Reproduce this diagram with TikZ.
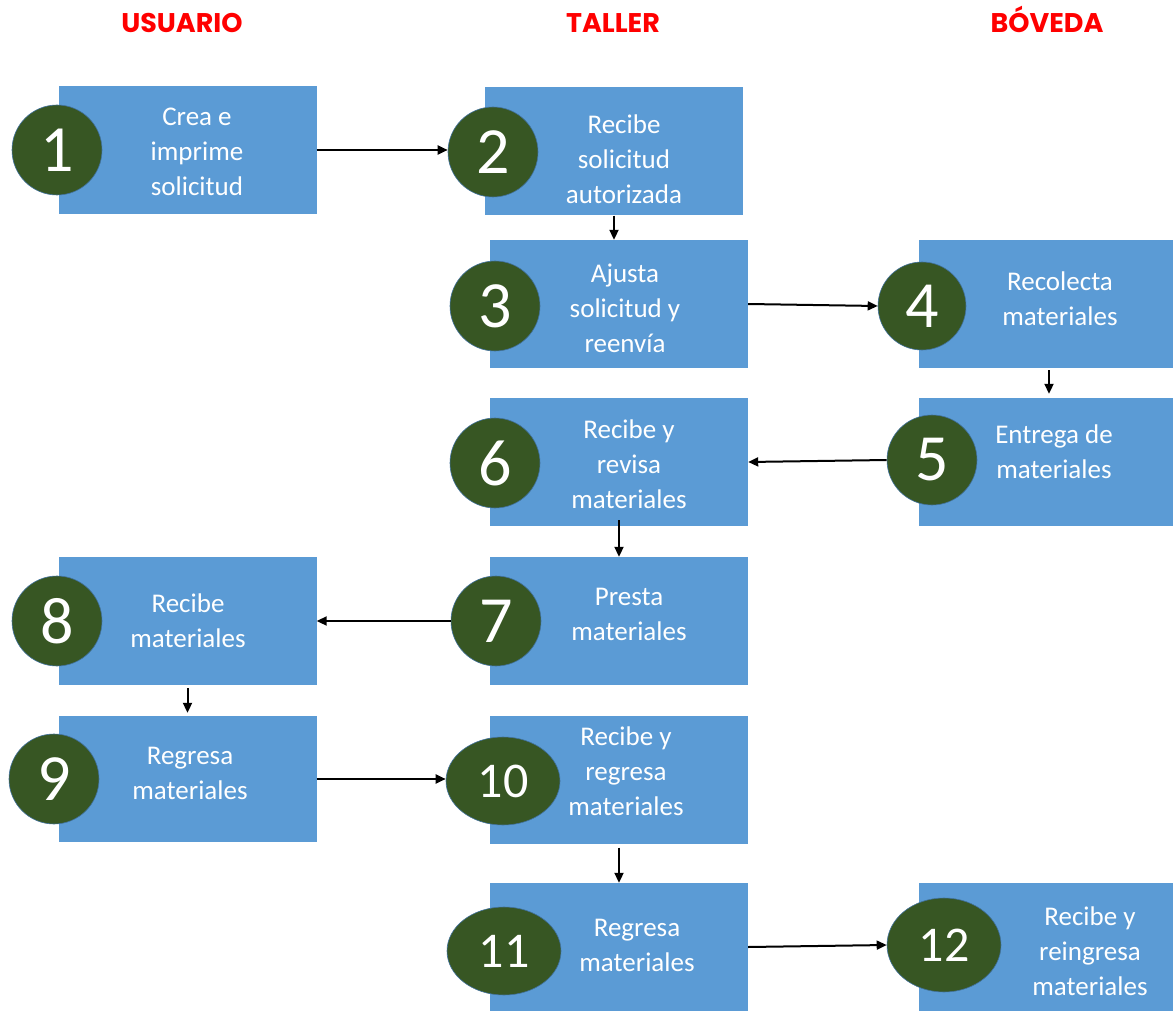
\documentclass[tikz,border=0pt]{standalone}
\usepackage{fontspec}
\setmainfont{Carlito}
\newfontfamily\headfont{Poppins}
\usetikzlibrary{arrows.meta,shapes.geometric}
\definecolor{boxblue}{HTML}{5B9BD5}
\definecolor{stepgreen}{HTML}{375623}
\definecolor{stepedge}{HTML}{41719C}
\definecolor{headred}{HTML}{FF0000}
\tikzset{
  stepbox/.style={fill=boxblue, draw=none, inner sep=0pt, minimum width=258pt, minimum height=128pt},
  numcirc/.style={circle, fill=stepgreen, draw=stepedge, line width=0.6pt, inner sep=0pt, minimum size=90pt, text=white, font=\fontsize{66}{66}\selectfont},
  numell/.style={ellipse, fill=stepgreen, draw=stepedge, line width=0.6pt, inner sep=0pt, minimum width=114pt, minimum height=88pt, text=white, font=\fontsize{50}{50}\selectfont},
  steptext/.style={text=white, align=center, inner sep=0pt, font=\fontsize{27}{35}\selectfont},
  head/.style={text=headred, anchor=base, inner sep=0pt, font=\headfont\bfseries\fontsize{27}{27}\selectfont},
  flow/.style={line width=2pt, -{Triangle[length=10pt,width=9pt]}},
}
\begin{document}
\begin{tikzpicture}[x=1pt,y=-1pt]
\useasboundingbox (0,0) rectangle (1173,1011);
% headings
\node[head] (hU) at (182,33) {USUARIO};
\node[head] (hT) at (613,33) {TALLER};
\node[head] (hB) at (1047,33) {BÓVEDA};
% boxes
\node[stepbox] (b1) at (187.5,150) {};
\node[stepbox] (b2) at (614,151.5) {};
\node[stepbox] (b3) at (619,304) {};
\node[stepbox, minimum width=260pt] (b4) at (1049,304) {};
\node[stepbox, minimum width=260pt] (b5) at (1049,462) {};
\node[stepbox] (b6) at (619,462) {};
\node[stepbox] (b7) at (619,621) {};
\node[stepbox] (b8) at (187.5,621) {};
\node[stepbox, minimum height=126pt] (b9) at (187.5,779) {};
\node[stepbox] (b10) at (619,779.5) {};
\node[stepbox, minimum height=136pt] (b11) at (619,951) {};
\node[stepbox, minimum width=260pt, minimum height=136pt] (b12) at (1049,951) {};
% texts
\node[steptext] (t1) at (197,152) {Crea e\\imprime\\solicitud};
\node[steptext] (t2) at (624,159) {Recibe\\solicitud\\autorizada};
\node[steptext] (t3) at (625,308) {Ajusta\\solicitud y\\reenvía};
\node[steptext] (t4) at (1060,299) {Recolecta\\materiales};
\node[steptext] (t5) at (1054,452) {Entrega de\\materiales};
\node[steptext] (t6) at (629,464) {Recibe y\\revisa\\materiales};
\node[steptext] (t7) at (629,614) {Presta\\materiales};
\node[steptext] (t8) at (188,621) {Recibe\\materiales};
\node[steptext] (t9) at (190,773) {Regresa\\materiales};
\node[steptext] (t10) at (626,771) {Recibe y\\regresa\\materiales};
\node[steptext] (t11) at (637,945) {Regresa\\materiales};
\node[steptext] (t12) at (1090,951) {Recibe y\\reingresa\\materiales};
% numbers
\node[numcirc] (c1) at (57,150) {1};
\node[numcirc] (c2) at (493,152) {2};
\node[numcirc] (c3) at (495,306) {3};
\node[numcirc, minimum size=88pt] (c4) at (922,306) {4};
\node[numcirc] (c5) at (932,460) {5};
\node[numcirc] (c6) at (495,463) {6};
\node[numcirc] (c7) at (496,621) {7};
\node[numcirc] (c8) at (57,621) {8};
\node[numcirc] (c9) at (54,779) {9};
\node[numell] (c10) at (503,781) {10};
\node[numell] (c11) at (504,951) {11};
\node[numell, minimum height=94pt] (c12) at (944,945) {12};
% connectors
\draw[flow] (b1.east) -- (b1.east -| c2.west);
\draw[flow] (b2.south) -- (b2.south |- b3.north);
\draw[flow] (b3.east) -- (c4.west);
\draw[flow, shorten <=2pt, shorten >=4pt] (b4.south) -- (b5.north);
\draw[flow] (c5.west) -- (b6.east);
\draw[flow, shorten <=-6pt] (b6.south) -- (b7.north);
\draw[flow] (c7.west) -- (b8.east);
\draw[flow, shorten <=3pt, shorten >=3pt] (b8.south) -- (b9.north);
\draw[flow] (b9.east) -- (b9.east -| c10.west);
\draw[flow, shorten <=4pt] (b10.south) -- (b11.north);
\draw[flow] ([yshift=4pt]b11.east) -- (c12.west);
\end{tikzpicture}
\end{document}
